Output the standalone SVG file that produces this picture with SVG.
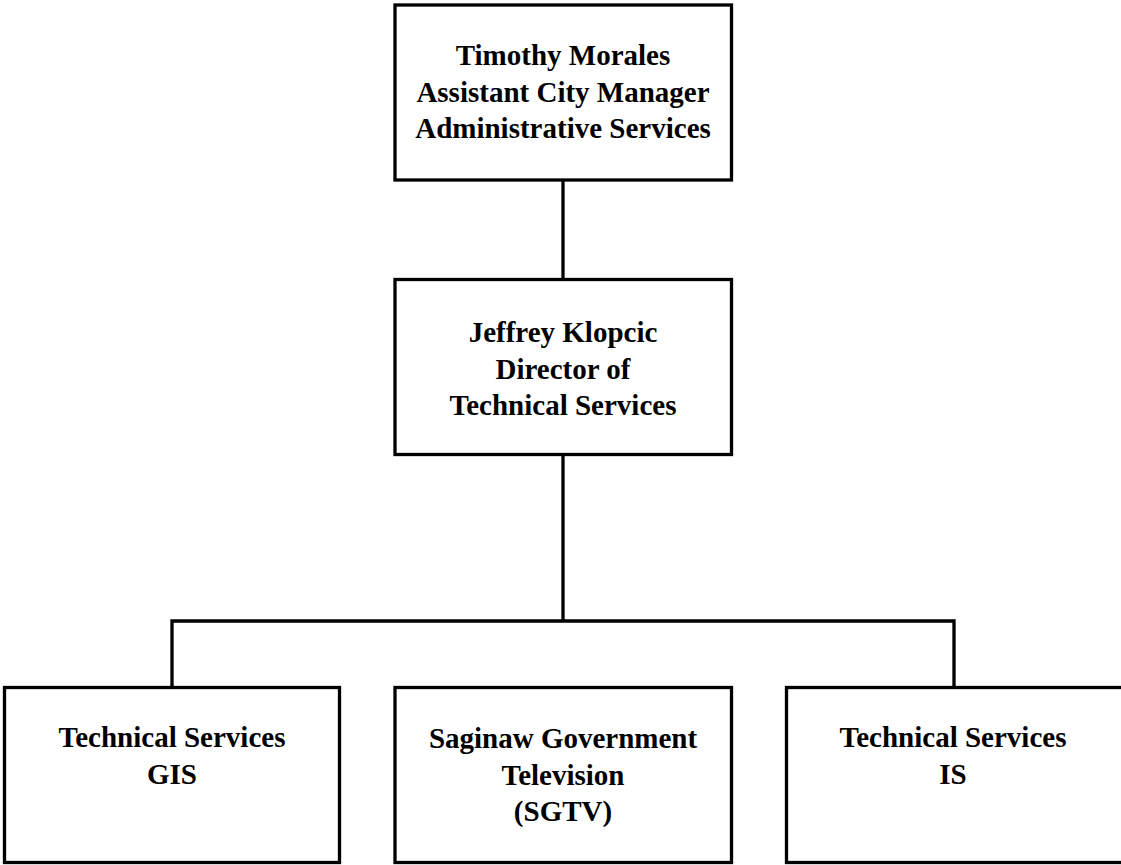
<svg xmlns="http://www.w3.org/2000/svg" width="1121" height="865" viewBox="0 0 1121 865">
<style>
.box{fill:#fff;stroke:#000;stroke-width:3.3}
.lbl{font-family:"Liberation Serif","Times New Roman",serif;font-weight:bold;font-size:29px;fill:#000;text-anchor:middle}
.conn{fill:none;stroke:#000;stroke-width:3.3}
</style>
<rect width="1121" height="865" fill="#fff"/>
<g id="connectors">
<line class="conn" x1="563" y1="180" x2="563" y2="279.5"/>
<line class="conn" x1="563" y1="454.5" x2="563" y2="621"/>
<polyline class="conn" points="172,687.5 172,621 954,621 954,687.5"/>
</g>
<g id="node-morales">
<rect class="box" x="395" y="5" width="336.5" height="175"/>
<text class="lbl" x="563" y="65">Timothy Morales</text>
<text class="lbl" x="563" y="101.5">Assistant City Manager</text>
<text class="lbl" x="563" y="138">Administrative Services</text>
</g>
<g id="node-klopcic">
<rect class="box" x="395" y="279.5" width="336.5" height="175"/>
<text class="lbl" x="563" y="342">Jeffrey Klopcic</text>
<text class="lbl" x="563" y="378.5">Director of</text>
<text class="lbl" x="563" y="415">Technical Services</text>
</g>
<g id="node-gis">
<rect class="box" x="4.5" y="687.5" width="335" height="175"/>
<text class="lbl" x="172" y="747">Technical Services</text>
<text class="lbl" x="172" y="783.5">GIS</text>
</g>
<g id="node-sgtv">
<rect class="box" x="395" y="687.5" width="336.5" height="175"/>
<text class="lbl" x="563" y="748">Saginaw Government</text>
<text class="lbl" x="563" y="784.5">Television</text>
<text class="lbl" x="563" y="821">(SGTV)</text>
</g>
<g id="node-is">
<rect class="box" x="786.5" y="687.5" width="336.5" height="175"/>
<text class="lbl" x="953" y="747">Technical Services</text>
<text class="lbl" x="953" y="783.5">IS</text>
</g>
</svg>
